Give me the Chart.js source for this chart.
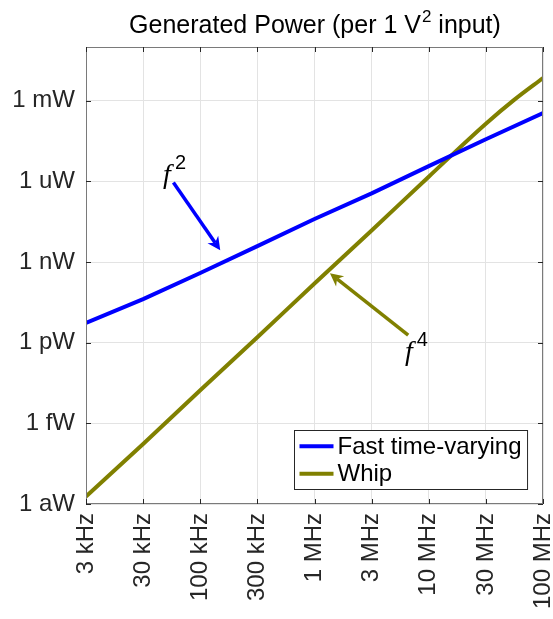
<!DOCTYPE html>
<html>
<head>
<meta charset="utf-8">
<script src="https://cdn.jsdelivr.net/npm/chart.js@4.4.1/dist/chart.umd.min.js"></script>
<style>
  html, body { margin: 0; padding: 0; background: #fff; }
  #wrap { width: 553px; height: 619px; }
</style>
</head>
<body>
<div id="wrap"><canvas id="c"></canvas></div>
<script>
// x axis: evenly spaced tick labels (index positions)
const xTickLabels = ["3 kHz", "30 kHz", "100 kHz", "300 kHz", "1 MHz", "3 MHz", "10 MHz", "30 MHz", "100 MHz"];
const yTickValues = [1e-18, 1e-15, 1e-12, 1e-9, 1e-6, 1e-3];
const yTickLabels = ["1 aW", "1 fW", "1 pW", "1 nW", "1 uW", "1 mW"];

// Generated power (W)
const fastX = [0, 1, 2, 3, 4, 5, 6, 7, 8];
const fastPower = [5.4e-12, 4.2e-11, 3.9e-10, 3.9e-9, 4.0e-8, 3.6e-7, 3.7e-6, 3.7e-5, 3.5e-4];
const whipX = [0, 1, 2, 3, 4, 5, 6, 7, 7.5, 8];
const whipPower = [1.9e-18, 1.7e-16, 1.7e-14, 1.6e-12, 1.6e-10, 1.5e-8, 1.5e-6, 1.4e-4, 1.1e-3, 7.0e-3];

// annotations (data coords)
const notes = [
  { text: "f", sup: "2", at: [1.35, 8.7e-7], from: [1.53, 9.1e-7], to: [2.35, 2.75e-9], color: "#0000ff" },
  { text: "f", sup: "4", at: [5.585, 2.2e-13], from: [5.64, 1.9e-12], to: [4.27, 3.8e-10], color: "#808000" },
];

const SANS = '"Liberation Sans", Arial, sans-serif';
const INK = "#262626";

function arrow(ctx, x0, y0, x1, y1, color) {
  const a = Math.atan2(y1 - y0, x1 - x0);
  const len = 13, wid = 6.5, back = 9;
  ctx.save();
  ctx.strokeStyle = color;
  ctx.fillStyle = color;
  ctx.lineWidth = 3.5;
  ctx.beginPath();
  ctx.moveTo(x0, y0);
  ctx.lineTo(x1 - Math.cos(a) * back, y1 - Math.sin(a) * back);
  ctx.stroke();
  ctx.translate(x1, y1);
  ctx.rotate(a);
  ctx.beginPath();
  ctx.moveTo(0, 0);
  ctx.lineTo(-len, -wid);
  ctx.lineTo(-back, 0);
  ctx.lineTo(-len, wid);
  ctx.closePath();
  ctx.fill();
  ctx.restore();
}

const decor = {
  id: "decor",
  afterDatasetsDraw(chart) {
    const { ctx, chartArea: ca, scales } = chart;
    const xs = scales.x, ys = scales.y;
    ctx.save();

    // box + inward ticks
    ctx.strokeStyle = "#7a7a7a";
    ctx.lineWidth = 1;
    ctx.strokeRect(ca.left + 0.5, ca.top + 0.5, ca.right - ca.left - 1, ca.bottom - ca.top - 1);
    ctx.strokeStyle = INK;
    ctx.beginPath();
    xTickLabels.forEach((_, i) => {
      const px = Math.round(xs.getPixelForValue(i)) + 0.5;
      ctx.moveTo(px, ca.bottom); ctx.lineTo(px, ca.bottom - 5);
      ctx.moveTo(px, ca.top); ctx.lineTo(px, ca.top + 5);
    });
    yTickValues.forEach((v) => {
      const py = Math.round(ys.getPixelForValue(v)) + 0.5;
      ctx.moveTo(ca.left, py); ctx.lineTo(ca.left + 5, py);
      ctx.moveTo(ca.right, py); ctx.lineTo(ca.right - 5, py);
    });
    ctx.stroke();

    // annotations
    notes.forEach((n) => {
      arrow(ctx, xs.getPixelForValue(n.from[0]), ys.getPixelForValue(n.from[1]),
        xs.getPixelForValue(n.to[0]), ys.getPixelForValue(n.to[1]), n.color);
      const tx = xs.getPixelForValue(n.at[0]), ty = ys.getPixelForValue(n.at[1]);
      ctx.fillStyle = "#000";
      ctx.textBaseline = "alphabetic";
      ctx.textAlign = "left";
      ctx.font = 'italic 28px "Liberation Serif", serif';
      ctx.fillText(n.text, tx, ty);
      const w = ctx.measureText(n.text).width;
      ctx.font = "20px " + SANS;
      ctx.fillText(n.sup, tx + w + 4, ty - 14);
    });

    // legend
    const sets = chart.data.datasets;
    ctx.font = "24px " + SANS;
    const tw = Math.max(...sets.map((d) => ctx.measureText(d.label).width));
    const rowH = 27.5;
    const bw = 5 + 34 + 4 + tw + 6, bh = sets.length * rowH + 4;
    const bx = Math.round(ca.right - 16 - bw) + 0.5, by = Math.round(ca.bottom - 15 - bh) + 0.5;
    ctx.fillStyle = "#fff";
    ctx.fillRect(bx, by, bw, bh);
    ctx.strokeStyle = INK;
    ctx.lineWidth = 1;
    ctx.strokeRect(bx, by, bw, bh);
    sets.forEach((d, i) => {
      const cy = by + 2 + rowH * (i + 0.5);
      ctx.strokeStyle = d.borderColor;
      ctx.lineWidth = 4;
      ctx.beginPath();
      ctx.moveTo(bx + 5, cy); ctx.lineTo(bx + 39, cy);
      ctx.stroke();
      ctx.fillStyle = "#000";
      ctx.textBaseline = "middle";
      ctx.textAlign = "left";
      ctx.fillText(d.label, bx + 43, cy + 1);
    });

    // title with superscript
    const a = "Generated Power (per 1 V", s = "2", b = " input)";
    const big = "25px " + SANS, small = "17px " + SANS;
    ctx.font = big; const wa = ctx.measureText(a).width, wb = ctx.measureText(b).width;
    ctx.font = small; const ws = ctx.measureText(s).width;
    let x = (ca.left + ca.right) / 2 - (wa + ws + wb) / 2;
    const base = 33;
    ctx.fillStyle = "#000";
    ctx.textBaseline = "alphabetic";
    ctx.textAlign = "left";
    ctx.font = big; ctx.fillText(a, x, base); x += wa;
    ctx.font = small; ctx.fillText(s, x + 1, base - 11); x += ws + 1;
    ctx.font = big; ctx.fillText(b, x, base);

    ctx.restore();
  },
};

new Chart(document.getElementById("c"), {
  type: "line",
  data: {
    datasets: [
      {
        label: "Fast time-varying",
        data: fastX.map((x, i) => ({ x, y: fastPower[i] })),
        borderColor: "#0000ff",
        borderWidth: 4,
        pointRadius: 0,
        tension: 0,
      },
      {
        label: "Whip",
        data: whipX.map((x, i) => ({ x, y: whipPower[i] })),
        borderColor: "#808000",
        borderWidth: 4,
        pointRadius: 0,
        cubicInterpolationMode: "monotone",
      },
    ],
  },
  options: {
    responsive: true,
    maintainAspectRatio: false,
    animation: false,
    layout: { padding: { top: 47, right: 10, left: 0, bottom: 0 } },
    plugins: { legend: { display: false }, title: { display: false }, tooltip: { enabled: false } },
    scales: {
      x: {
        type: "linear",
        min: 0,
        max: 8,
        afterBuildTicks: (s) => { s.ticks = xTickLabels.map((_, i) => ({ value: i })); },
        afterFit: (s) => { s.height = 115; s.paddingLeft = 0; s.paddingRight = 0; },
        ticks: {
          callback: (v) => xTickLabels[Math.round(v)],
          autoSkip: false,
          maxRotation: 90,
          minRotation: 90,
          padding: 9,
          color: INK,
          font: { family: SANS, size: 24 },
        },
        grid: { color: "#e3e3e3", drawTicks: false },
        border: { display: false },
      },
      y: {
        type: "logarithmic",
        min: 1e-18,
        max: 1e-1,
        afterBuildTicks: (s) => { s.ticks = yTickValues.map((v) => ({ value: v })); },
        afterFit: (s) => { s.width = 86; s.paddingTop = 0; s.paddingBottom = 0; },
        ticks: {
          callback: (v) => {
            const i = yTickValues.findIndex((t) => Math.abs(Math.log10(t) - Math.log10(v)) < 1e-6);
            return i >= 0 ? yTickLabels[i] : "";
          },
          padding: 11,
          color: INK,
          font: { family: SANS, size: 24 },
        },
        grid: { color: "#e3e3e3", drawTicks: false },
        border: { display: false },
      },
    },
  },
  plugins: [decor],
});
</script>
</body>
</html>
